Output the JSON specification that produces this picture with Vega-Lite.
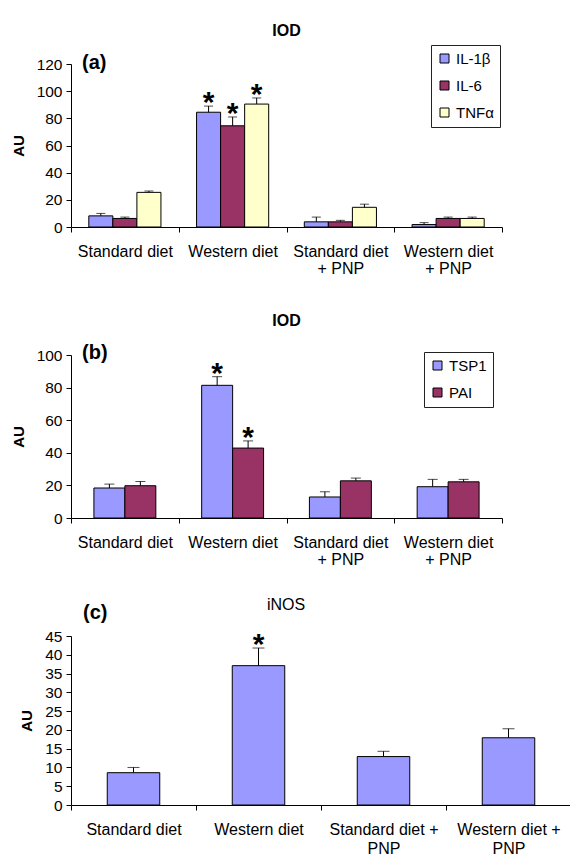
{
  "$schema": "https://vega.github.io/schema/vega-lite/v6.json",
  "padding": {"left": 11, "top": 22, "right": 0, "bottom": 0},
  "spacing": 37,
  "columns": 1,
  "align": "none",
  "resolve": {"scale": {"x": "independent", "y": "independent", "fill": "independent", "xOffset": "independent"}, "legend": {"fill": "independent"}, "axis": {"x": "independent", "y": "independent"}},
  "config": {
    "font": "Liberation Sans",
    "view": {"stroke": null},
    "axis": {"labelColor": "black", "tickColor": "black", "domainColor": "black", "titleColor": "black", "grid": false, "tickSize": 5, "labelFont": "Liberation Sans", "titleFont": "Liberation Sans", "labelOverlap": false},
    "axisY": {"labelFontSize": 15.5, "labelPadding": 4, "titleFontSize": 15, "titleFontWeight": "bold", "titlePadding": 10, "tickCount": 30},
    "axisX": {"labelFontSize": 16, "labelAngle": 0, "tickBand": "extent", "labelPadding": 11, "labelLineHeight": 17, "title": null},
    "legend": {"orient": "none", "title": null, "strokeColor": "#222", "fillColor": "white", "padding": 6, "symbolType": "square", "symbolSize": 81, "symbolStrokeColor": "black", "symbolStrokeWidth": 1, "labelFontSize": 15, "labelColor": "black", "rowPadding": 11, "labelOffset": 4, "labelFont": "Liberation Sans"}
  },
  "datasets": {
    "pa": [
      {"group": "Standard diet", "series": "IL-1β", "value": 8.2, "err": 10.0, "star": false},
      {"group": "Standard diet", "series": "IL-6", "value": 6.3, "err": 7.3, "star": false},
      {"group": "Standard diet", "series": "TNFα", "value": 25.5, "err": 26.5, "star": false},
      {"group": "Western diet", "series": "IL-1β", "value": 84.5, "err": 89.0, "star": true},
      {"group": "Western diet", "series": "IL-6", "value": 74.5, "err": 81.0, "star": true},
      {"group": "Western diet", "series": "TNFα", "value": 90.5, "err": 95.0, "star": true},
      {"group": "Standard diet|+ PNP", "series": "IL-1β", "value": 3.8, "err": 7.3, "star": false},
      {"group": "Standard diet|+ PNP", "series": "IL-6", "value": 3.8, "err": 4.9, "star": false},
      {"group": "Standard diet|+ PNP", "series": "TNFα", "value": 14.5, "err": 16.8, "star": false},
      {"group": "Western diet|+ PNP", "series": "IL-1β", "value": 1.8, "err": 3.2, "star": false},
      {"group": "Western diet|+ PNP", "series": "IL-6", "value": 6.3, "err": 7.3, "star": false},
      {"group": "Western diet|+ PNP", "series": "TNFα", "value": 6.3, "err": 7.3, "star": false}
    ],
    "pb": [
      {"group": "Standard diet", "series": "TSP1", "value": 18.4, "err": 20.8, "star": false},
      {"group": "Standard diet", "series": "PAI", "value": 19.8, "err": 22.4, "star": false},
      {"group": "Western diet", "series": "TSP1", "value": 81.4, "err": 86.7, "star": true},
      {"group": "Western diet", "series": "PAI", "value": 42.9, "err": 47.3, "star": true},
      {"group": "Standard diet|+ PNP", "series": "TSP1", "value": 12.9, "err": 16.1, "star": false},
      {"group": "Standard diet|+ PNP", "series": "PAI", "value": 22.8, "err": 24.5, "star": false},
      {"group": "Western diet|+ PNP", "series": "TSP1", "value": 19.2, "err": 23.7, "star": false},
      {"group": "Western diet|+ PNP", "series": "PAI", "value": 22.2, "err": 23.7, "star": false}
    ],
    "pc": [
      {"group": "Standard diet", "value": 8.6, "err": 10.0, "star": false},
      {"group": "Western diet", "value": 37.1, "err": 41.8, "star": true},
      {"group": "Standard diet +|PNP", "value": 12.9, "err": 14.3, "star": false},
      {"group": "Western diet +|PNP", "value": 17.9, "err": 20.3, "star": false}
    ]
  },
  "concat": [
    {
      "width": 431,
      "height": 163,
      "title": {"text": "IOD", "fontWeight": "bold", "fontSize": 16, "color": "black", "font": "Liberation Sans", "offset": 6},
      "data": {"name": "pa"},
      "encoding": {
        "x": {"field": "group", "type": "nominal", "sort": null, "scale": {"paddingInner": 0, "paddingOuter": 0}, "axis": {"labelExpr": "split(datum.label, '|')"}}
      },
      "layer": [
        {
          "mark": {"type": "bar", "stroke": "black", "strokeWidth": 1},
          "encoding": {
            "xOffset": {"field": "series", "type": "nominal", "scale": {"domain": ["IL-1β", "IL-6", "TNFα"], "paddingInner": 0, "paddingOuter": 0.74}},
            "y": {"field": "value", "type": "quantitative", "scale": {"domain": [0, 120]}, "axis": {"values": [0, 20, 40, 60, 80, 100, 120], "tickCount": 30, "labelOverlap": false, "title": "AU"}},
            "fill": {"field": "series", "type": "nominal", "scale": {"domain": ["IL-1β", "IL-6", "TNFα"], "range": ["#9999FF", "#993366", "#FFFFCC"]}, "legend": {"legendX": 360, "legendY": -19}}
          }
        },
        {
          "mark": {"type": "rule", "color": "black", "strokeWidth": 1},
          "encoding": {
            "xOffset": {"field": "series", "type": "nominal", "scale": {"domain": ["IL-1β", "IL-6", "TNFα"]}},
            "y": {"field": "value", "type": "quantitative"},
            "y2": {"field": "err"}
          }
        },
        {
          "mark": {"type": "tick", "color": "black", "thickness": 1, "size": 9},
          "encoding": {
            "xOffset": {"field": "series", "type": "nominal", "scale": {"domain": ["IL-1β", "IL-6", "TNFα"]}},
            "y": {"field": "err", "type": "quantitative"}
          }
        },
        {
          "transform": [{"filter": "datum.star"}],
          "mark": {"type": "text", "text": "*", "fontSize": 30, "fontWeight": "bold", "baseline": "alphabetic", "dy": 6, "color": "black"},
          "encoding": {
            "xOffset": {"field": "series", "type": "nominal", "scale": {"domain": ["IL-1β", "IL-6", "TNFα"]}},
            "y": {"field": "err", "type": "quantitative"}
          }
        },
        {
          "data": {"values": [{"t": "(a)"}]},
          "mark": {"type": "text", "fontSize": 20, "fontWeight": "bold", "align": "left", "baseline": "middle", "dx": 11, "dy": -1, "color": "black"},
          "encoding": {
            "x": {"datum": "Standard diet", "bandPosition": 0},
            "y": {"datum": 120, "type": "quantitative"},
            "text": {"field": "t"}
          }
        }
      ]
    },
    {
      "spacing": 30,
      "columns": 1,
      "align": "none",
      "resolve": {"scale": {"x": "independent", "y": "independent", "fill": "independent", "xOffset": "independent"}, "legend": {"fill": "independent"}, "axis": {"x": "independent", "y": "independent"}},
      "concat": [
        {
          "width": 431,
          "height": 163,
          "title": {"text": "IOD", "fontWeight": "bold", "fontSize": 16, "color": "black", "font": "Liberation Sans", "offset": 14},
          "data": {"name": "pb"},
          "encoding": {
            "x": {"field": "group", "type": "nominal", "sort": null, "scale": {"paddingInner": 0, "paddingOuter": 0}, "axis": {"labelExpr": "split(datum.label, '|')"}}
          },
          "layer": [
            {
              "mark": {"type": "bar", "stroke": "black", "strokeWidth": 1},
              "encoding": {
                "xOffset": {"field": "series", "type": "nominal", "scale": {"domain": ["TSP1", "PAI"], "paddingInner": 0, "paddingOuter": 0.74}},
                "y": {"field": "value", "type": "quantitative", "scale": {"domain": [0, 100]}, "axis": {"values": [0, 20, 40, 60, 80, 100], "tickCount": 30, "labelOverlap": false, "title": "AU"}},
                "fill": {"field": "series", "type": "nominal", "scale": {"domain": ["TSP1", "PAI"], "range": ["#9999FF", "#993366"]}, "legend": {"legendX": 353, "legendY": -3}}
              }
            },
            {
              "mark": {"type": "rule", "color": "black", "strokeWidth": 1},
              "encoding": {
                "xOffset": {"field": "series", "type": "nominal", "scale": {"domain": ["TSP1", "PAI"]}},
                "y": {"field": "value", "type": "quantitative"},
                "y2": {"field": "err"}
              }
            },
            {
              "mark": {"type": "tick", "color": "black", "thickness": 1, "size": 10},
              "encoding": {
                "xOffset": {"field": "series", "type": "nominal", "scale": {"domain": ["TSP1", "PAI"]}},
                "y": {"field": "err", "type": "quantitative"}
              }
            },
            {
              "transform": [{"filter": "datum.star"}],
              "mark": {"type": "text", "text": "*", "fontSize": 30, "fontWeight": "bold", "baseline": "alphabetic", "dy": 6, "color": "black"},
              "encoding": {
                "xOffset": {"field": "series", "type": "nominal", "scale": {"domain": ["TSP1", "PAI"]}},
                "y": {"field": "err", "type": "quantitative"}
              }
            },
            {
              "data": {"values": [{"t": "(b)"}]},
              "mark": {"type": "text", "fontSize": 20, "fontWeight": "bold", "align": "left", "baseline": "middle", "dx": 11, "dy": -2, "color": "black"},
              "encoding": {
                "x": {"datum": "Standard diet", "bandPosition": 0},
                "y": {"datum": 100, "type": "quantitative"},
                "text": {"field": "t"}
              }
            }
          ]
        },
        {
          "width": 500,
          "height": 169,
          "title": {"text": "iNOS", "fontWeight": "normal", "fontSize": 16, "color": "black", "font": "Liberation Sans", "offset": -10, "dx": -35},
          "data": {"name": "pc"},
          "encoding": {
            "x": {"field": "group", "type": "nominal", "sort": null, "scale": {"paddingInner": 0, "paddingOuter": 0}, "axis": {"labelExpr": "split(datum.label, '|')", "labelPadding": 11, "labelLineHeight": 19}}
          },
          "layer": [
            {
              "mark": {"type": "bar", "stroke": "black", "strokeWidth": 1, "color": "#9999FF", "width": {"band": 0.42}},
              "encoding": {
                "y": {"field": "value", "type": "quantitative", "scale": {"domain": [0, 45]}, "axis": {"values": [0, 5, 10, 15, 20, 25, 30, 35, 40, 45], "tickCount": 30, "labelOverlap": false, "title": "AU"}}
              }
            },
            {
              "mark": {"type": "rule", "color": "black", "strokeWidth": 1},
              "encoding": {
                "y": {"field": "value", "type": "quantitative"},
                "y2": {"field": "err"}
              }
            },
            {
              "mark": {"type": "tick", "color": "black", "thickness": 1, "size": 12},
              "encoding": {
                "y": {"field": "err", "type": "quantitative"}
              }
            },
            {
              "transform": [{"filter": "datum.star"}],
              "mark": {"type": "text", "text": "*", "fontSize": 30, "fontWeight": "bold", "baseline": "alphabetic", "dy": 6, "color": "black"},
              "encoding": {
                "y": {"field": "err", "type": "quantitative"}
              }
            },
            {
              "data": {"values": [{"t": "(c)"}]},
              "mark": {"type": "text", "fontSize": 20, "fontWeight": "bold", "align": "left", "baseline": "middle", "dx": 12, "dy": -23, "color": "black"},
              "encoding": {
                "x": {"datum": "Standard diet", "bandPosition": 0},
                "y": {"datum": 45, "type": "quantitative"},
                "text": {"field": "t"}
              }
            }
          ]
        }
      ]
    }
  ]
}
